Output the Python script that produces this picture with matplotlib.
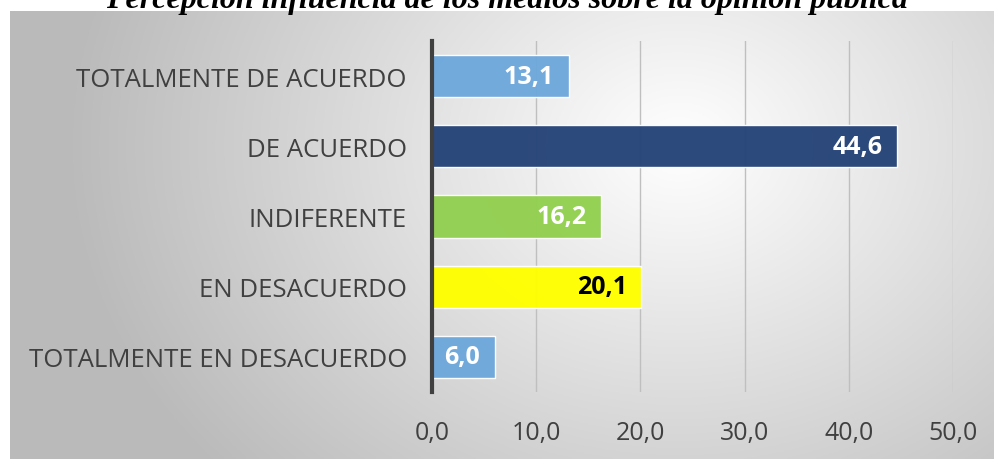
import numpy as np
import matplotlib
matplotlib.use("Agg")
import matplotlib.pyplot as plt

categories = ["TOTALMENTE DE ACUERDO", "DE ACUERDO", "INDIFERENTE",
              "EN DESACUERDO", "TOTALMENTE EN DESACUERDO"]
values = [13.1, 44.6, 16.2, 20.1, 6.0]
bar_colors = ["#6FA8DC", "#264478", "#92D050", "#FFFF00", "#6FA8DC"]
label_colors = ["white", "white", "white", "black", "white"]
xticks = [0, 10, 20, 30, 40, 50]
title = "Percepción influencia de los medios sobre la opinión pública"

W, H = 995, 460
fig = plt.figure(figsize=(W / 100, H / 100), dpi=100)
fig.patch.set_facecolor("white")

# gradient background
bg = fig.add_axes([10 / W, 0, 1 - 10 / W, 1 - 12 / H])
bg.set_axis_off()
nx, ny = 400, 200
xx, yy = np.meshgrid(np.linspace(0, 1, nx), np.linspace(0, 1, ny))
cx, cy = 0.68, 0.3
d = np.sqrt(((xx - cx) * 1.6) ** 2 + ((yy - cy) * 0.9) ** 2)
d = np.clip(d / 1.0, 0, 1)
shade = 1.0 - 0.27 * d
img = np.dstack([shade, shade, shade])
bg.imshow(img, aspect="auto", extent=[0, 1, 0, 1], origin="upper")
bg.set_zorder(0)

ax = fig.add_axes([432 / W, 1 - 393 / H, (953 - 432) / W, (393 - 42) / H])
ax.set_zorder(1)
ax.patch.set_alpha(0)
y = np.arange(len(categories))
ax.barh(y, values, height=0.6, color=bar_colors, alpha=0.97,
        edgecolor=(1, 1, 1, 0.35), linewidth=1, zorder=3)
ax.set_xlim(0, 50)
ax.set_ylim(len(categories) - 0.5, -0.5)
for s in ["top", "right", "bottom"]:
    ax.spines[s].set_visible(False)
ax.spines["left"].set_color("#404040")
ax.spines["left"].set_linewidth(3)
ax.spines["left"].set_zorder(5)
ax.set_xticks(xticks)
ax.set_xticklabels([f"{v:.1f}".replace(".", ",") for v in xticks],
                   fontsize=18, color="#404040", family="Open Sans")
ax.tick_params(axis="x", length=0, pad=20)
ax.tick_params(axis="y", length=0, pad=18)
ax.set_yticks(y)
ax.set_yticklabels(categories, fontsize=18.5, color="#404040", family="Open Sans")
ax.grid(axis="x", color="#BFBFBF", linewidth=1, zorder=1)
ax.set_axisbelow(True)

for yi, v, c in zip(y, values, label_colors):
    ax.text(v - 1.4, yi, f"{v:.1f}".replace(".", ","), ha="right", va="center",
            fontsize=18, fontweight="bold", color=c, family="Open Sans", zorder=6)

fig.text(507 / W, 1 - 8 / H, title, ha="center", va="baseline", fontsize=23,
         fontweight="bold", style="italic", family="Liberation Serif", color="black")

fig.savefig("out.png", dpi=100)
